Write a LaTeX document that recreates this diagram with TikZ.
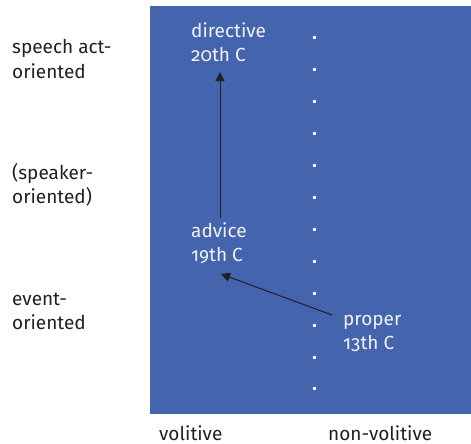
\documentclass[tikz,border=0pt]{standalone}
\usepackage{fontspec}
\setmainfont[Numbers=OldStyle]{Fira Sans}
\usetikzlibrary{arrows.meta}
\definecolor{panel}{HTML}{4464AE}
\definecolor{ink}{HTML}{231F20}
\definecolor{paper}{HTML}{F2F2F2}
\tikzset{
  lbl/.style={anchor=base west, inner sep=0pt, font=\fontsize{19}{22}\selectfont, text=ink},
  inlbl/.style={lbl, text=paper},
  arr/.style={draw=ink, line width=1pt, -{Triangle[length=9pt,width=9pt]}},
  tick/.style={fill=white, minimum size=3pt, inner sep=0pt}
}
\begin{document}
\begin{tikzpicture}[x=1pt, y=-1pt]
\useasboundingbox (0,0) rectangle (471,444);
% shaded panel
\fill[panel] (150,6) rectangle (471,414);
% dotted divider between volitive and non-volitive
\foreach \k in {0,...,11}
  \node[tick] (dot\k) at (314,{38+31.9*\k}) {};
% row labels
\node[lbl] (r1a) at (12,54) {speech act-};
\node[lbl] (r1b) at (12,78) {oriented};
\node[lbl] (r2a) at (12,179) {(speaker-};
\node[lbl] (r2b) at (12,203) {oriented)};
\node[lbl] (r3a) at (12,305) {event-};
\node[lbl] (r3b) at (12,329) {oriented};
% column labels
\node[lbl] (c1) at (159,440) {volitive};
\node[lbl] (c2) at (328,440) {non-volitive};
% stages
\node[inlbl] (d1) at (191,38) {directive};
\node[inlbl] (d2) at (191,62) {20th C};
\node[inlbl] (a1) at (191,237) {advice};
\node[inlbl] (a2) at (191,261) {19th C};
\node[inlbl] (p1) at (343,325) {proper};
\node[inlbl] (p2) at (343,349) {13th C};
% developments
\draw[arr] ([shift={(29,-19)}]a1.base west) -- ([shift={(29,10)}]d2.base west);
\draw[arr] ([shift={(-11,-10)}]p1.base west) -- ([shift={(30,13)}]a2.base west);
\end{tikzpicture}
\end{document}
